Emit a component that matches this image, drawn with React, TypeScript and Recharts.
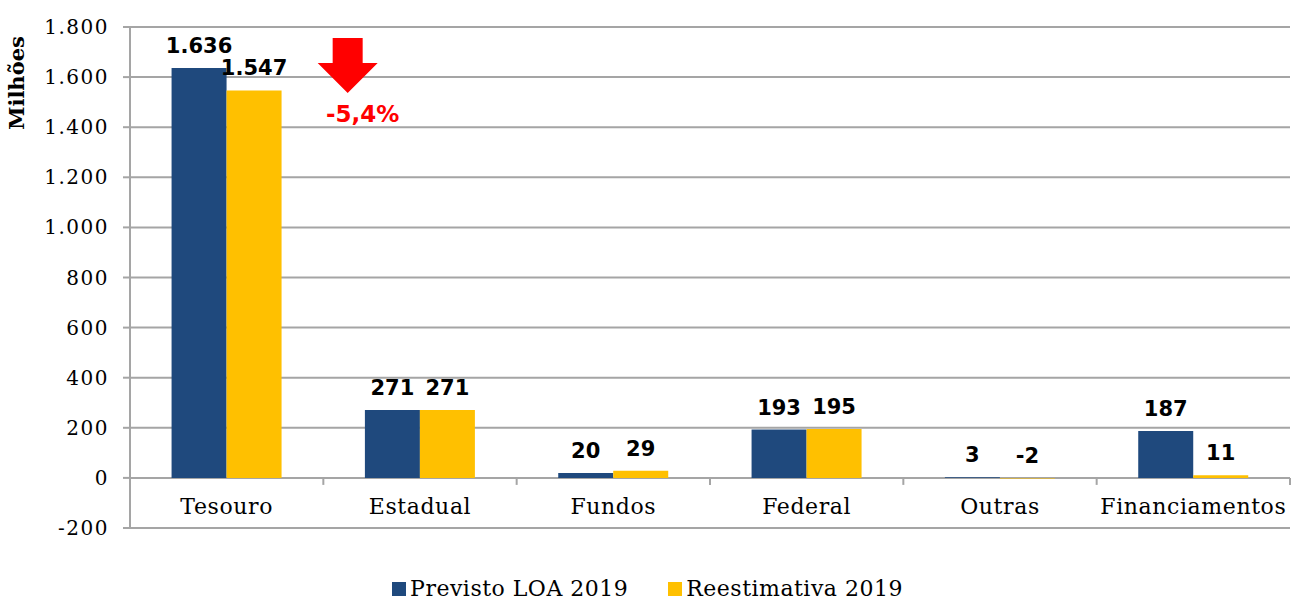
import React from "react"
import {
  BarChart,
  Bar,
  XAxis,
  YAxis,
  CartesianGrid,
  Legend,
  LabelList,
  ReferenceDot,
} from "recharts"

// categories and series (R$ milhões)
const categories = ["Tesouro", "Estadual", "Fundos", "Federal", "Outras", "Financiamentos"]
const previstoLoa = [1636, 271, 20, 193, 3, 187]
const reestimativa = [1547, 271, 29, 195, -2, 11]
const yTicks = [-200, 0, 200, 400, 600, 800, 1000, 1200, 1400, 1600, 1800]

const seriesNames = { loa: "Previsto LOA 2019", re: "Reestimativa 2019" }

const data = categories.map((c, i) => ({ name: c, loa: previstoLoa[i], re: reestimativa[i] }))

const W = 1295
const H = 599
const M = { top: 27, right: 5, bottom: 70, left: 0 }
const X_H = 1
const Y_W = 130
const Y_MIN = yTicks[0]
const Y_MAX = yTicks[yTicks.length - 1]
const PLOT_BOTTOM = H - M.bottom - X_H
const PLOT_H = PLOT_BOTTOM - M.top
const ZERO_Y = PLOT_BOTTOM - (PLOT_H * (0 - Y_MIN)) / (Y_MAX - Y_MIN)
const BAND = (W - Y_W - M.left - M.right) / categories.length

const BLUE = "#1F497D"
const GOLD = "#FFC000"
const GRID = "#a5a5a5"
const SERIF = "'DejaVu Serif', serif"
const SANS = "'DejaVu Sans', Verdana, sans-serif"

const fmt = (v: number) => {
  const s = Math.abs(v).toString().replace(/\B(?=(\d{3})+(?!\d))/g, ".")
  return (v < 0 ? "-" : "") + s
}

const CategoryTick = (props: any) => {
  const { x, payload, index } = props
  return (
    <g>
      <line x1={x + BAND / 2} x2={x + BAND / 2} y1={ZERO_Y} y2={ZERO_Y + 7} stroke={GRID} strokeWidth={2} />
      {index === 0 && (
        <line x1={x - BAND / 2} x2={x - BAND / 2} y1={ZERO_Y} y2={ZERO_Y + 7} stroke={GRID} strokeWidth={2} />
      )}
      <text
        x={x}
        y={ZERO_Y + 36}
        textAnchor="middle"
        fontFamily={SERIF}
        fontSize={22}
        letterSpacing={0.6}
        fill="#000"
      >
        {payload.value}
      </text>
    </g>
  )
}

const ValueTick = (props: any) => {
  const { x, y, payload } = props
  return (
    <text x={x} y={y + 7} textAnchor="end" fontFamily={SERIF} fontSize={20} letterSpacing={1.5} fill="#000">
      {fmt(payload.value)}
    </text>
  )
}

const ValueLabel = (props: any) => {
  const { x, y, width, height, value } = props
  const top = Math.min(y, y + height)
  return (
    <text
      x={x + width / 2}
      y={top - 15}
      textAnchor="middle"
      fontFamily={SANS}
      fontWeight="bold"
      fontSize={21}
      fill="#000"
    >
      {fmt(value)}
    </text>
  )
}

const change = (reestimativa[0] / previstoLoa[0] - 1) * 100
const changeText = change.toFixed(1).replace(".", ",") + "%"

const DownArrow = (props: any) => {
  const { cx, cy } = props
  const ax = cx + 121
  const top = cy + 11
  return (
    <g>
      <polygon
        points={[
          [ax - 15, top],
          [ax + 15, top],
          [ax + 15, top + 25],
          [ax + 30, top + 25],
          [ax, top + 55],
          [ax - 30, top + 25],
          [ax - 15, top + 25],
        ]
          .map((p) => p.join(","))
          .join(" ")}
        fill="#FF0000"
      />
      <text x={ax + 15} y={top + 84} textAnchor="middle" fontFamily={SANS} fontWeight="bold" fontSize={23} fill="#FF0000">
        {changeText}
      </text>
    </g>
  )
}

const LegendContent = (props: any) => {
  const { payload } = props
  return (
    <div
      style={{
        display: "flex",
        justifyContent: "center",
        alignItems: "center",
        fontFamily: SERIF,
        fontSize: 22,
        letterSpacing: 0.5,
      }}
    >
      {payload.map((e: any, i: number) => (
        <div key={i} style={{ display: "flex", alignItems: "center", marginLeft: i > 0 ? 40 : 0 }}>
          <span style={{ width: 14, height: 14, background: e.color, display: "inline-block", marginRight: 4 }} />
          <span style={{ color: "#000" }}>{e.value}</span>
        </div>
      ))}
    </div>
  )
}

export default function App() {
  return (
    <div style={{ position: "absolute", left: 0, top: 0, background: "#fff" }}>
      <BarChart width={W} height={H} data={data} margin={M} barGap={0} barCategoryGap="21.5%">
        <CartesianGrid horizontal vertical={false} stroke={GRID} strokeWidth={2} />
        <XAxis
          dataKey="name"
          height={X_H}
          axisLine={false}
          tickLine={false}
          tick={CategoryTick}
          interval={0}
        />
        <YAxis
          width={Y_W}
          domain={[Y_MIN, Y_MAX]}
          ticks={yTicks}
          interval={0}
          axisLine={{ stroke: GRID, strokeWidth: 2 }}
          tickLine={{ stroke: GRID, strokeWidth: 2 }}
          tickSize={7}
          tickMargin={14}
          tick={ValueTick}
          label={({ viewBox }: any) => (
            <text
              x={viewBox.x + 24}
              y={viewBox.y + 56}
              transform={`rotate(-90 ${viewBox.x + 24} ${viewBox.y + 56})`}
              textAnchor="middle"
              fontFamily={SERIF}
              fontWeight="bold"
              fontSize={21}
              fill="#000"
            >
              Milhões
            </text>
          )}
        />
        <Legend
          layout="horizontal"
          verticalAlign="middle"
          align="center"
          wrapperStyle={{ top: 576, left: 0, width: W, height: 28 }}
          content={<LegendContent />}
        />
        <Bar dataKey="loa" name={seriesNames.loa} fill={BLUE} isAnimationActive={false}>
          <LabelList dataKey="loa" content={<ValueLabel />} />
        </Bar>
        <Bar dataKey="re" name={seriesNames.re} fill={GOLD} isAnimationActive={false}>
          <LabelList dataKey="re" content={<ValueLabel />} />
        </Bar>
        <ReferenceDot x={categories[0]} y={Y_MAX} r={0} shape={<DownArrow />} ifOverflow="visible" />
      </BarChart>
    </div>
  )
}
